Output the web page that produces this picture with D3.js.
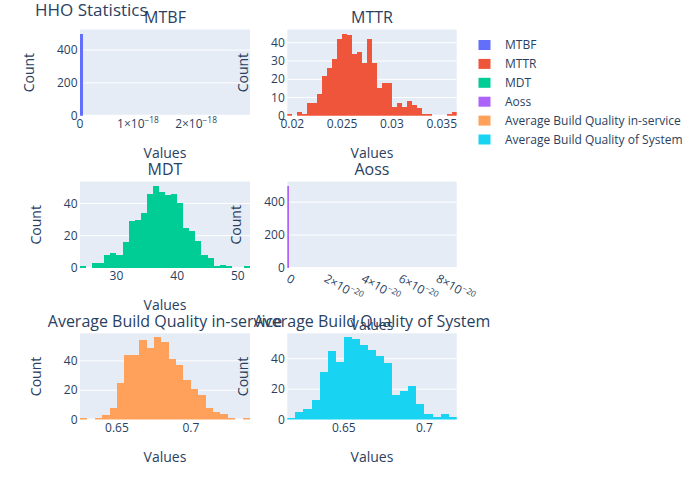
<!DOCTYPE html>
<html>
<head>
<meta charset="utf-8">
<script src="https://cdn.jsdelivr.net/npm/d3@7"></script>
<style>
  body { margin: 0; background: #fff; }
  svg { display: block; font-family: "Open Sans", verdana, arial, sans-serif; }
</style>
</head>
<body>
<svg id="chart" width="700" height="500"></svg>
<script>
// ---------------- data ----------------
const chartTitle = "HHO Statistics";
const seriesNames = ["MTBF", "MTTR", "MDT", "Aoss",
  "Average Build Quality in-service", "Average Build Quality of System"];
const colors = ["#636efa", "#EF553B", "#00cc96", "#ab63fa", "#FFA15A", "#19d3f3"];

// histogram bins: first bin start and bin width per series
const binStarts = [0, 0.0195, 24, 0, 0.625, 0.615];
const binWidths = [5e-20, 0.0005, 1, 1.1e-21, 0.005, 0.005];

const mtbfCounts = [500];
const mttrCounts = [1, 0, 2, 1, 7, 7, 12, 22, 26, 31, 42, 45, 44, 34, 35, 29, 42, 29,
  15, 18, 18, 5, 7, 5, 8, 6, 4, 1, 1, 0, 0, 0, 1, 2];
const mdtCounts = [1, 0, 3, 3, 8, 9, 8, 16, 29, 30, 34, 46, 51, 47, 45, 46, 40, 25,
  23, 17, 8, 6, 1, 2, 1, 0, 0, 1];
const aossCounts = [500];
const abqInCounts = [1, 0, 1, 3, 8, 25, 44, 44, 54, 49, 56, 53, 41, 37, 27, 21, 17,
  8, 5, 4, 1, 0, 1];
const abqSysCounts = [1, 5, 7, 13, 31, 45, 38, 54, 53, 49, 46, 42, 37, 16, 19, 22,
  10, 4, 2, 4, 2];
const allCounts = [mtbfCounts, mttrCounts, mdtCounts, aossCounts, abqInCounts, abqSysCounts];

// axis ranges and ticks
const xDomains = [[0, 2.93e-18], [0.0195, 0.0365], [24, 52], [0, 9.07e-20],
  [0.625, 0.74], [0.615, 0.72]];
const xTicks = [[0, 1e-18, 2e-18], [0.02, 0.025, 0.03, 0.035], [30, 40, 50],
  [0, 2e-20, 4e-20, 6e-20, 8e-20], [0.65, 0.7], [0.65, 0.7]];
// tick labels: [mantissa text, superscript exponent]
const xTickLabels = [
  [["0", ""], ["1×10", "−18"], ["2×10", "−18"]],
  [["0.02", ""], ["0.025", ""], ["0.03", ""], ["0.035", ""]],
  [["30", ""], ["40", ""], ["50", ""]],
  [["0", ""], ["2×10", "−20"], ["4×10", "−20"], ["6×10", "−20"], ["8×10", "−20"]],
  [["0.65", ""], ["0.7", ""]],
  [["0.65", ""], ["0.7", ""]]
];
const yTicks = [[0, 200, 400], [0, 10, 20, 30, 40], [0, 20, 40], [0, 200, 400],
  [0, 20, 40], [0, 20, 40]];
const xTitle = "Values";
const yTitle = "Count";

// ---------------- layout ----------------
const colLeft = [80, 287.3];
const colWidth = [170, 169.4];
const rowTop = [29.5, 181.6, 333.3];
const rowHeight = 86.3;
const rotatedTicks = [false, false, false, true, false, false];
const fontColor = "#2a3f5f";
const plotBg = "#E5ECF6";

const svg = d3.select("#chart");

svg.append("text")
  .attr("x", 35).attr("y", 15.5)
  .attr("font-size", 17).attr("fill", fontColor)
  .text(chartTitle);

seriesNames.forEach((name, i) => {
  const row = Math.floor(i / 2), col = i % 2;
  const left = colLeft[col], width = colWidth[col];
  const top = rowTop[row], bottom = top + rowHeight;
  const counts = allCounts[i];
  const yMax = d3.max(counts) * 1.05;

  const x = d3.scaleLinear().domain(xDomains[i]).range([left, left + width]);
  const y = d3.scaleLinear().domain([0, yMax]).range([bottom, top]);

  const g = svg.append("g");
  const clipId = "clip" + i;
  svg.append("clipPath").attr("id", clipId)
    .append("rect").attr("x", left).attr("y", top).attr("width", width).attr("height", rowHeight);

  g.append("rect").attr("x", left).attr("y", top).attr("width", width)
    .attr("height", rowHeight).attr("fill", plotBg);

  // gridlines
  g.selectAll("line.grid").data(yTicks[i].filter(t => t !== 0)).enter()
    .append("line")
    .attr("x1", left).attr("x2", left + width)
    .attr("y1", d => y(d)).attr("y2", d => y(d))
    .attr("stroke", "#fff").attr("stroke-width", 1);
  g.append("line").attr("x1", left).attr("x2", left + width)
    .attr("y1", y(0)).attr("y2", y(0)).attr("stroke", "#fff").attr("stroke-width", 2);

  // bars
  const bins = counts.map((c, k) => ({
    x0: binStarts[i] + k * binWidths[i],
    x1: binStarts[i] + (k + 1) * binWidths[i],
    c: c
  })).filter(b => b.c > 0);
  g.append("g").attr("clip-path", `url(#${clipId})`)
    .attr("shape-rendering", "crispEdges")
    .selectAll("rect").data(bins).enter().append("rect")
    .attr("x", d => x(d.x0))
    .attr("width", d => Math.max(0, x(d.x1) - x(d.x0)))
    .attr("y", d => y(d.c))
    .attr("height", d => y(0) - y(d.c))
    .attr("fill", colors[i]);

  // y tick labels
  const yLabels = g.selectAll("text.ytick").data(yTicks[i]).enter()
    .append("text")
    .attr("x", left - 2.5).attr("y", d => y(d)).attr("dy", "0.35em")
    .attr("text-anchor", "end").attr("font-size", 12).attr("fill", fontColor)
    .text(d => d3.format("~g")(d));
  let maxW = 0;
  yLabels.each(function () { maxW = Math.max(maxW, this.getComputedTextLength()); });

  // x tick labels
  xTicks[i].forEach((t, k) => {
    const lab = xTickLabels[i][k];
    const tx = x(t);
    const txt = g.append("text").attr("font-size", 12).attr("fill", fontColor);
    if (rotatedTicks[i]) {
      const ax = tx - 1.5, ay = bottom + 13;
      txt.attr("x", ax).attr("y", ay).attr("text-anchor", "start")
        .attr("transform", `rotate(30,${ax},${ay})`);
    } else {
      txt.attr("x", tx).attr("y", bottom + 12.5).attr("text-anchor", "middle");
    }
    txt.append("tspan").text(lab[0]);
    if (lab[1]) {
      txt.append("tspan").attr("font-size", 8.4).attr("dy", "-0.6em").text(lab[1]);
    }
  });

  // axis titles
  const xTitleY = rotatedTicks[i] ? bottom + 62 : bottom + 42.5;
  g.append("text").attr("x", left + width / 2).attr("y", xTitleY)
    .attr("text-anchor", "middle").attr("font-size", 14).attr("fill", fontColor)
    .text(xTitle);
  const yb = left - 2.5 - maxW - 23;
  const cy = top + rowHeight / 2;
  g.append("text").attr("x", yb).attr("y", cy)
    .attr("transform", `rotate(-90,${yb},${cy})`)
    .attr("text-anchor", "middle").attr("font-size", 14).attr("fill", fontColor)
    .text(yTitle);

  // subplot title
  g.append("text").attr("x", left + width / 2).attr("y", top - 6.5)
    .attr("text-anchor", "middle").attr("font-size", 16).attr("fill", fontColor)
    .text(name);
});

// legend
const legend = svg.append("g");
seriesNames.forEach((name, i) => {
  const cy = 45 + i * 18.9;
  legend.append("rect").attr("x", 478.5).attr("y", cy - 5).attr("width", 12)
    .attr("height", 10).attr("fill", colors[i]);
  legend.append("text").attr("x", 505).attr("y", cy).attr("dy", "0.36em")
    .attr("font-size", 12).attr("fill", fontColor).text(name);
});
</script>
</body>
</html>
